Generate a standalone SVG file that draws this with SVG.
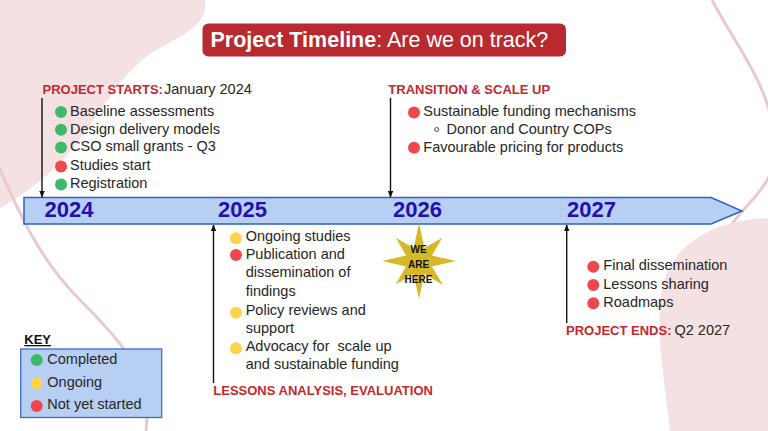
<svg xmlns="http://www.w3.org/2000/svg" width="768" height="431" viewBox="0 0 768 431">
<style>
text{font-family:"Liberation Sans",Arial,sans-serif}
.t{font-size:14.5px;fill:#262626}
.lbl{font-size:13px;font-weight:bold;fill:#c4282e}
.yr{font-size:22px;font-weight:bold;fill:#2410b0}
.g{fill:#3cb96a}
.y{fill:#fdd34b}
.r{fill:#f0474d}
.bgf{fill:#f5e1e2}
.bgl{fill:none;stroke:#ebc9cb;stroke-width:3}
.conn{stroke:#111;stroke-width:1.4;fill:none}
</style>
<defs>
<marker id="ah" viewBox="0 0 10 10" refX="9" refY="5" markerWidth="7" markerHeight="7" orient="auto-start-reverse" markerUnits="userSpaceOnUse">
<path d="M0,1 L10,5 L0,9 Z" fill="#111"/>
</marker>
</defs>
<rect width="768" height="431" fill="#ffffff"/>
<g id="background">
<path class="bgf" d="M0,0 H205 C208,22 190,32 160,48 C122,68 102,112 74,147 C52,174 25,194 0,208 Z"/>
<path class="bgl" d="M-2,165 C20,215 40,260 80,300 C120,340 145,370 148,405 L146,431"/>
<path class="bgl" d="M712,0 C735,45 775,90 775,150 C775,190 740,205 725,235 C705,275 720,330 768,362"/>
<path class="bgf" d="M768,218 C720,220 680,238 665,278 C652,320 665,380 670,431 H768 Z"/>
</g>
<g id="title">
<rect x="202.5" y="23.5" width="363.5" height="33" rx="6" fill="#b82a2f"/>
<text x="210.5" y="46.7" font-size="21.5" fill="#ffffff"><tspan font-weight="bold">Project Timeline</tspan>: Are we on track?</text>
</g>
<g id="timeline-bar">
<path d="M24,197.5 H711 L742,211 L711,224 H24 Z" fill="#b7cff2" stroke="#2c62c9" stroke-width="1.5"/>
<text class="yr" x="44.5" y="217">2024</text>
<text class="yr" x="218" y="217">2025</text>
<text class="yr" x="393" y="217">2026</text>
<text class="yr" x="567" y="217">2027</text>
</g>
<g id="connectors">
<line class="conn" x1="42" y1="98" x2="42" y2="197" marker-end="url(#ah)"/>
<line class="conn" x1="390.5" y1="98" x2="390.5" y2="197" marker-end="url(#ah)"/>
<line class="conn" x1="213.5" y1="383" x2="213.5" y2="225" marker-end="url(#ah)"/>
<line class="conn" x1="566.7" y1="323" x2="566.7" y2="225" marker-end="url(#ah)"/>
</g>
<g id="project-starts">
<text x="42.5" y="94"><tspan class="lbl">PROJECT STARTS:</tspan><tspan class="t" font-size="14.5" dx="1">January 2024</tspan></text>
<circle class="g" cx="61" cy="112" r="6"/>
<text class="t" x="70" y="115.7">Baseline assessments</text>
<circle class="g" cx="61" cy="129.7" r="6"/>
<text class="t" x="70" y="133.5">Design delivery models</text>
<circle class="g" cx="61" cy="147.5" r="6"/>
<text class="t" x="70" y="151.3">CSO small grants - Q3</text>
<circle class="r" cx="61" cy="166.5" r="6"/>
<text class="t" x="70" y="170.3">Studies start</text>
<circle class="g" cx="61" cy="184.5" r="6"/>
<text class="t" x="70" y="188.3">Registration</text>
</g>
<g id="transition">
<text class="lbl" x="388.3" y="93.5">TRANSITION &amp; SCALE UP</text>
<circle class="r" cx="414" cy="112.5" r="6"/>
<text class="t" x="423.3" y="116">Sustainable funding mechanisms</text>
<circle cx="436.7" cy="129.5" r="2" fill="none" stroke="#333" stroke-width="0.9"/>
<text class="t" x="446.5" y="134">Donor and Country COPs</text>
<circle class="r" cx="414" cy="147.8" r="6"/>
<text class="t" x="423.3" y="152.3">Favourable pricing for products</text>
</g>
<g id="lessons">
<circle class="y" cx="236" cy="238.3" r="6"/>
<text class="t" x="245.7" y="240.8">Ongoing studies</text>
<circle class="r" cx="236" cy="255" r="6"/>
<text class="t" x="245.7" y="259">Publication and</text>
<text class="t" x="245.7" y="277.4">dissemination of</text>
<text class="t" x="245.7" y="296">findings</text>
<circle class="y" cx="236" cy="312.7" r="6"/>
<text class="t" x="245.7" y="315">Policy reviews and</text>
<text class="t" x="245.7" y="332.7">support</text>
<circle class="y" cx="236" cy="348.3" r="6"/>
<text class="t" x="245.7" y="350.8" xml:space="preserve">Advocacy for  scale up</text>
<text class="t" x="245.7" y="369.3">and sustainable funding</text>
<text class="lbl" x="213.3" y="395.3" font-size="13.6">LESSONS ANALYSIS, EVALUATION</text>
</g>
<g id="we-are-here">
<polygon fill="#d6b928" points="419,223 424.4,248.1 442.3,237.7 431.9,255.6 456,261 431.9,266.4 443,285 424.4,273.9 419,299 413.6,273.9 395.7,284.3 406.1,266.4 382,261 406.1,255.6 395.7,237.7 413.6,248.1"/>
<text x="418.5" y="252.7" font-size="10" font-weight="bold" fill="#111" text-anchor="middle">WE</text>
<text x="418.5" y="267.5" font-size="10" font-weight="bold" fill="#111" text-anchor="middle">ARE</text>
<text x="418.5" y="282.7" font-size="10" font-weight="bold" fill="#111" text-anchor="middle">HERE</text>
</g>
<g id="project-ends">
<circle class="r" cx="593.3" cy="266.7" r="6"/>
<text class="t" x="603.3" y="270.3">Final dissemination</text>
<circle class="r" cx="593.3" cy="285" r="6"/>
<text class="t" x="603.3" y="288.5">Lessons sharing</text>
<circle class="r" cx="593.3" cy="303.3" r="6"/>
<text class="t" x="603.3" y="306.8">Roadmaps</text>
<text x="566" y="335"><tspan class="lbl">PROJECT ENDS:</tspan><tspan class="t" dx="3">Q2 2027</tspan></text>
</g>
<g id="key">
<text x="24.3" y="344" font-size="13" font-weight="bold" fill="#111" text-decoration="underline">KEY</text>
<rect x="20.7" y="349" width="141" height="68.5" fill="#b7cff2" stroke="#3a6cc8" stroke-width="1.3"/>
<circle class="g" cx="36.7" cy="360" r="6"/>
<text class="t" x="47.3" y="364">Completed</text>
<circle class="y" cx="36.7" cy="383.3" r="6"/>
<text class="t" x="47.3" y="386.7">Ongoing</text>
<circle class="r" cx="36.7" cy="406" r="6"/>
<text class="t" x="47.3" y="409">Not yet started</text>
</g>
</svg>
